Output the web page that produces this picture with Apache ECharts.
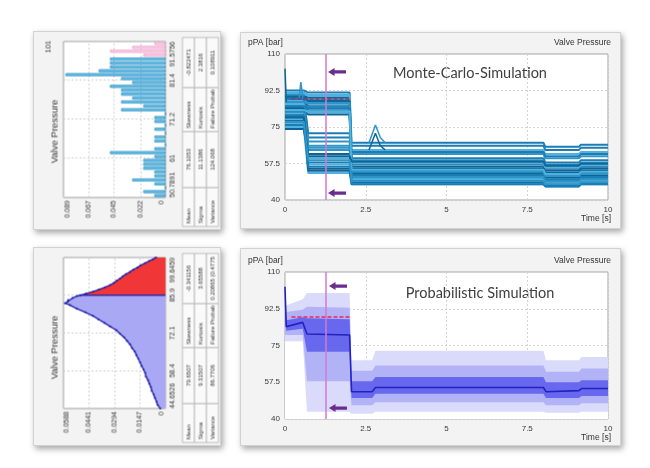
<!DOCTYPE html>
<html>
<head>
<meta charset="utf-8">
<title>Valve Pressure</title>
<script src="https://cdn.jsdelivr.net/npm/echarts@6.0.0/dist/echarts.min.js"></script>
<style>
  html, body { margin: 0; padding: 0; background: #fff; }
  body { width: 650px; height: 468px; position: relative; overflow: hidden; }
  .panel { position: absolute; background: #f3f3f3; border: 1px solid #d2d2d2; box-shadow: 2px 3px 6px rgba(0, 0, 0, 0.35); }
  .chart { position: absolute; left: 0; top: 0; }
  /* the two distribution plots are drawn upright and turned a quarter left */
  .rot { position: absolute; transform: rotate(-90deg); }
</style>
</head>
<body>
<div class="panel" style="left:33px;top:31px;width:186px;height:197px;">
  <div id="histChart" class="rot" style="left:-5.5px;top:5.5px;width:197px;height:186px;"></div>
</div>
<div class="panel" style="left:240px;top:32px;width:379px;height:195px;">
  <div id="mcChart" class="chart" style="width:379px;height:195px;"></div>
</div>
<div class="panel" style="left:33px;top:247px;width:186px;height:197px;">
  <div id="pdfChart" class="rot" style="left:-5.5px;top:5.5px;width:197px;height:186px;"></div>
</div>
<div class="panel" style="left:240px;top:248px;width:379px;height:196px;">
  <div id="probChart" class="chart" style="width:379px;height:196px;"></div>
</div>

<script>
const FONT = "Liberation Sans";
const TITLE_FONT = "Lato";

// ---------- histogram (top left) ----------
const histMin = 50.7891;
const histMax = 91.5756;
const histTicks = [50.7891, 61, 71.2, 81.4, 91.5756];
const histDensityTicks = [0, 0.022, 0.045, 0.067, 0.089];
const histDensityMax = 0.0891;
// density per bin, low pressure -> high pressure
const histDensity = [
  0.0097, 0.0194, 0, 0.0097, 0.0291, 0.0097, 0.0097, 0.0194, 0.0194, 0.0194,
  0.0097, 0.0485, 0.0097, 0, 0.0097, 0.0097, 0, 0.0097, 0, 0.0097,
  0.0097, 0, 0.0388, 0.0194, 0.0388, 0.0291, 0.0388, 0.0388, 0.0485, 0.0291,
  0.0388, 0.0874, 0.0583, 0.0485, 0.0485, 0.0485, 0.0194, 0.0485, 0.0291, 0.0097,
];
const histFailFrom = 36; // bins from here on are above the limit
const histSamples = "101";
const histStats = [
  ["Mean", "76.1053", "Skewness", "-0.822471"],
  ["Sigma", "11.1386", "Kurtosis", "2.3816"],
  ["Variance", "124.068", "Failure Probabil", "0.108911"],
];

// ---------- density (bottom left) ----------
const pdfMin = 44.6526;
const pdfMax = 99.6459;
const pdfTicks = [44.6526, 58.4, 72.1, 85.9, 99.6459];
const pdfDensityTicks = [0, 0.0147, 0.0294, 0.0441, 0.0588];
const pdfLimit = 85.9;
const pdfP = [
  44.6526, 45.9, 47.2, 48.5, 49.8, 51.1, 52.4, 53.7, 55.0, 56.3,
  57.6, 58.9, 60.2, 61.5, 62.8, 64.1, 65.4, 66.7, 68.0, 69.3,
  70.6, 71.9, 73.2, 74.5, 75.8, 77.1, 78.4, 79.7, 81.0, 82.3,
  83.0, 83.6, 84.2, 84.9, 85.6, 85.9, 86.5, 87.2, 88.0, 88.8,
  89.6, 90.4, 91.2, 92.0, 92.8, 93.6, 94.4, 95.2, 96.0, 96.8,
  97.6, 98.4, 99.0, 99.6459,
];
const pdfD = [
  0.0030, 0.0045, 0.0052, 0.0061, 0.0068, 0.0079, 0.0084, 0.0093, 0.0101, 0.0113,
  0.0117, 0.0127, 0.0138, 0.0147, 0.0157, 0.0168, 0.0177, 0.0193, 0.0204, 0.0222,
  0.0239, 0.0263, 0.0284, 0.0319, 0.0351, 0.0386, 0.0419, 0.0463, 0.0512, 0.0551,
  0.0579, 0.0564, 0.0560, 0.0536, 0.0510, 0.0492, 0.0458, 0.0418, 0.0383, 0.0349,
  0.0320, 0.0298, 0.0281, 0.0262, 0.0246, 0.0228, 0.0205, 0.0186, 0.0162, 0.0143,
  0.0118, 0.0094, 0.0072, 0.0055,
];
const pdfStats = [
  ["Mean", "79.6507", "Skewness", "-0.341156"],
  ["Sigma", "9.31507", "Kurtosis", "3.65588"],
  ["Variance", "86.7706", "Failure Probabil", "0.20865 (0.4775"],
];

// ---------- shared for the two time plots ----------
const pressureTicks = [40, 57.5, 75, 92.5, 110];
const cursorTime = 1.27;
const limitPressure = 88.5;
const limitSpan = [0.2, 2.0];
const mcArrows = [[1.61, 101.4], [1.61, 43.3]];
const probArrows = [[1.64, 103.3], [1.64, 45.2]];

// ---------- Monte-Carlo runs (top right) ----------
const mcTimes = [0, 0.58, 0.72, 2.0, 2.06, 8.0, 8.06, 9.1, 9.16, 10];
const mcLevelIdx = [0, 0, 1, 1, 2, 2, 3, 3, 4, 4];
// levels of each run: before 0.6 s, 0.7-2 s, 2-8 s, 8-9.1 s, 9.1-10 s
const mcRuns = [
  [92.5, 91.5, 67.5, 65.5, 66.5],
  [91, 90, 64, 62, 63],
  [90, 89, 56, 54, 55],
  [89, 88, 52, 50, 51],
  [88, 87, 60, 58, 59],
  [87.5, 86, 49, 47.5, 48.5],
  [86.5, 85, 54, 52, 53],
  [85.5, 84.5, 50.5, 48.5, 49.5],
  [84.5, 83, 58, 56, 57],
  [83.5, 82, 48, 47, 48],
  [82.5, 81, 53, 51, 52],
  [81, 66, 62, 60, 61],
  [80, 70, 66, 64, 65],
  [79, 60, 51, 49, 50],
  [78, 55, 49.5, 47.5, 48.5],
  [77, 64, 55, 53, 54],
  [76, 58, 52, 50, 51],
  [75, 53, 47.5, 46.5, 47.5],
  [74, 62, 57, 55, 56],
  [90.5, 68, 59, 57, 58],
  [88.5, 72, 63, 61, 62],
  [86, 57, 50, 48, 49],
  [84, 54, 48.5, 47, 48],
  [82, 65, 53.5, 51.5, 52.5],
  [80.5, 56, 51.5, 49.5, 50.5],
  [91.5, 90.5, 57.5, 55.5, 56.5],
  [89.5, 87.5, 55, 53, 54],
  [87, 86.5, 51, 49, 50],
  [85, 84, 47.5, 46.5, 47.5],
  [83, 82.5, 54.5, 52.5, 53.5],
  [79.5, 61, 58.5, 56.5, 57.5],
  [77.5, 59, 49, 47.5, 48.5],
];
const mcSpikes = [
  [[0, 103], [0.02, 103], [0.04, 87]],
  [[0.44, 89], [0.49, 96.5], [0.55, 89]],
  [[2.6, 64], [2.8, 72], [2.95, 66], [3.1, 64]],
  [[2.6, 67.5], [2.8, 76], [2.95, 70], [3.1, 67.5]],
];
const mcColors = ["#1c7db5", "#4fb2de", "#0f6498", "#2f95c8"];

// ---------- probabilistic bands (bottom right) ----------
const bandTimes = [0, 0.04, 0.55, 0.68, 2.0, 2.06, 2.7, 2.8, 8.0, 8.08, 9.1, 9.18, 10];
const bandHi0 = [108, 94, 97, 100, 100, 68, 68, 72.5, 72.5, 68, 68, 69.5, 69.5];
const bandHi1 = [104, 91, 92, 93.5, 93, 63, 63, 65.5, 65.5, 62.5, 62.5, 64, 64];
const bandHi2 = [103, 87, 88.5, 88, 87.5, 58, 58, 60, 60, 57.5, 57.5, 58.5, 58.5];
const bandMed = [103, 84, 86, 80.5, 80, 53, 53, 55, 55, 53, 53.5, 54.5, 54.5];
const bandLo2 = [88, 82, 83, 72, 72, 50, 50, 52, 52, 50, 50, 51, 51];
const bandLo1 = [80, 79.5, 80, 58, 58, 46.5, 46.5, 48, 48, 46.5, 46.5, 47.5, 47.5];
const bandLo0 = [77, 76.5, 77, 43.5, 43.5, 42.5, 42.5, 43.5, 43.5, 43, 43, 43.5, 43.5];
const bandColors = ["#dadafb", "#b2b2f6", "#6868ef"];

const ARROW = "path://M0,5L8,0L8,3L22,3L22,7L8,7L8,10Z";

// stats table below the upright plot (becomes the right strip once rotated)
function statTable(rows) {
  const colB = [3, 42, 98, 142, 192];
  const rowB = [148, 160, 172, 184];
  const els = [];
  rows.forEach((row, r) => {
    row.forEach((txt, c) => {
      const w = colB[c + 1] - colB[c];
      els.push({
        type: "rect",
        shape: { x: colB[c], y: rowB[r], width: w, height: rowB[r + 1] - rowB[r] },
        style: { fill: "#fafafa", stroke: "#bdbdbd", lineWidth: 1 },
        silent: true,
      });
      els.push({
        type: "text",
        x: c % 2 === 0 ? colB[c] + 3 : colB[c] + w / 2,
        y: (rowB[r] + rowB[r + 1]) / 2,
        style: {
          text: txt,
          fontFamily: FONT,
          fontSize: 6,
          fill: "#333",
          align: c % 2 === 0 ? "left" : "center",
          verticalAlign: "middle",
          width: w - 3,
          overflow: "truncate",
          ellipsis: "",
        },
        silent: true,
      });
    });
  });
  return els;
}

function uprightFrame(gridLeft) {
  return {
    animation: false,
    textStyle: { fontFamily: FONT },
    grid: {
      left: gridLeft, right: 9, top: 29, bottom: 55,
      show: true, backgroundColor: "#fff", borderColor: "#9c9c9c", borderWidth: 1,
    },
  };
}

function densityAxis(ticks, max) {
  return {
    type: "value",
    min: 0,
    max: max,
    axisLine: { show: false },
    axisTick: { show: false, customValues: ticks },
    axisLabel: {
      customValues: ticks, fontSize: 7, color: "#333", margin: 3,
      verticalAlignMinLabel: "bottom", verticalAlignMaxLabel: "top",
      formatter: (v) => String(v),
    },
    splitLine: { lineStyle: { color: "#d0d0d0", type: [2, 2] } },
  };
}

function pressureAxis(min, max, ticks) {
  return {
    type: "value",
    min: min,
    max: max,
    position: "bottom",
    axisLine: { show: false },
    axisTick: { show: false, customValues: ticks },
    axisLabel: {
      customValues: ticks, fontSize: 7, color: "#333", margin: 4,
      alignMinLabel: "left", alignMaxLabel: "right",
      formatter: (v) => String(v),
    },
    splitLine: { show: true, lineStyle: { color: "#d0d0d0", type: [2, 2] } },
  };
}

// ---- top left ----
const histBins = histDensity.map((d, i) =>
  (histMin + (i * (histMax - histMin)) / histDensity.length).toFixed(2)
);
const histChart = echarts.init(document.getElementById("histChart"));
histChart.setOption(Object.assign(uprightFrame(32), {
  xAxis: [
    { type: "category", data: histBins, show: false, position: "bottom" },
    pressureAxis(histMin, histMax, histTicks),
  ],
  yAxis: densityAxis(histDensityTicks, histDensityMax),
  graphic: [
    {
      type: "text", x: 98, y: 20,
      style: { text: "Valve Pressure", fontFamily: FONT, fontSize: 9.5, fill: "#333", align: "center", verticalAlign: "middle" },
    },
    {
      type: "text", x: 189, y: 14,
      style: { text: histSamples, fontFamily: FONT, fontSize: 7.5, fill: "#333", align: "right", verticalAlign: "middle" },
    },
  ].concat(statTable(histStats)),
  series: [
    {
      type: "bar",
      xAxisIndex: 0,
      barCategoryGap: "22%",
      silent: true,
      data: histDensity.map((d, i) => ({
        value: d,
        itemStyle: i >= histFailFrom
          ? { color: "#fde6f2", borderColor: "#ee9cc8", borderWidth: 1 }
          : { color: "#6ac6eb", borderColor: "#2a8cc0", borderWidth: 0.8 },
      })),
    },
  ],
}));

// ---- bottom left ----
const pdfPoints = pdfP.map((p, i) => [p, pdfD[i]]);
const pdfLow = pdfPoints.filter((d) => d[0] <= pdfLimit);
const pdfHigh = pdfPoints.filter((d) => d[0] >= pdfLimit);
const pdfEdge = pdfPoints.find((d) => d[0] === pdfLimit);
const pdfLine = { color: "#1c1ca8", width: 1.3 };
const pdfChart = echarts.init(document.getElementById("pdfChart"));
pdfChart.setOption(Object.assign(uprightFrame(37), {
  xAxis: pressureAxis(pdfMin, pdfMax, pdfTicks),
  yAxis: densityAxis(pdfDensityTicks, 0.0588),
  graphic: [
    {
      type: "text", x: 98, y: 20,
      style: { text: "Valve Pressure", fontFamily: FONT, fontSize: 9.5, fill: "#333", align: "center", verticalAlign: "middle" },
    },
  ].concat(statTable(pdfStats)),
  series: [
    {
      type: "line", data: pdfLow, silent: true,
      symbol: "circle", symbolSize: 2, showSymbol: true,
      itemStyle: { color: "#1c1ca8" }, lineStyle: pdfLine,
      areaStyle: { color: "#a8a8f4", opacity: 1 },
    },
    {
      type: "line", data: pdfHigh, silent: true,
      symbol: "circle", symbolSize: 2, showSymbol: true,
      itemStyle: { color: "#1c1ca8" }, lineStyle: pdfLine,
      areaStyle: { color: "#f03636", opacity: 1 },
    },
    {
      type: "line", data: [[pdfLimit, 0], pdfEdge], silent: true,
      showSymbol: false, lineStyle: pdfLine,
    },
  ],
}));

// ---- time plots ----
function timeFrame(gridTop, gridBottom, titleText, titleX, titleY, labelTop, timeTop) {
  const label = { fontFamily: FONT, fontSize: 8.5, fill: "#333" };
  return {
    animation: false,
    textStyle: { fontFamily: FONT },
    grid: {
      left: 44, right: 12, top: gridTop, bottom: gridBottom,
      show: true, backgroundColor: "#fff", borderColor: "#a3a3a3", borderWidth: 1,
    },
    xAxis: {
      type: "value", min: 0, max: 10, interval: 2.5,
      axisLine: { show: false }, axisTick: { show: false },
      axisLabel: { fontSize: 8, color: "#3a3a3a", margin: 6, formatter: (v) => String(v) },
      splitLine: { lineStyle: { color: "#d4d4d4", type: [2, 2] } },
    },
    yAxis: {
      type: "value", min: 40, max: 110,
      axisLine: { show: false },
      axisTick: { show: false, customValues: pressureTicks },
      axisLabel: { customValues: pressureTicks, fontSize: 8, color: "#3a3a3a", margin: 5 },
      splitLine: { lineStyle: { color: "#d4d4d4", type: [2, 2] } },
    },
    graphic: [
      { type: "text", left: 7, top: labelTop, style: Object.assign({ text: "pPA [bar]" }, label) },
      { type: "text", right: 9, top: labelTop, style: Object.assign({ text: "Valve Pressure" }, label) },
      { type: "text", right: 9, top: timeTop, style: Object.assign({ text: "Time [s]" }, label) },
      {
        type: "text", x: titleX, y: titleY,
        style: { text: titleText, fontFamily: TITLE_FONT, fontSize: 14.5, fill: "#404040", align: "center", verticalAlign: "middle" },
      },
    ],
  };
}

function annotations(limitColor, limitWidth, arrows) {
  return {
    markLine: {
      silent: true, symbol: "none", animation: false,
      label: { show: false },
      data: [
        { xAxis: cursorTime, lineStyle: { color: "#d27ad2", width: 1.5, type: "solid" } },
        [
          { coord: [limitSpan[0], limitPressure], lineStyle: { color: limitColor, width: limitWidth, type: [4, 2] } },
          { coord: [limitSpan[1], limitPressure] },
        ],
      ],
    },
    markPoint: {
      silent: true, animation: false,
      symbol: ARROW, symbolSize: [18, 8],
      itemStyle: { color: "#6a2d8e" },
      label: { show: false },
      data: arrows.map((c) => ({ coord: c })),
    },
  };
}

// ---- top right ----
const mcSeries = mcRuns.map((run, i) => ({
  type: "line", silent: true, showSymbol: false,
  data: mcTimes.map((t, j) => [t, run[mcLevelIdx[j]]]),
  lineStyle: { color: mcColors[i % mcColors.length], width: 2 },
}));
mcSpikes.forEach((pts, i) => {
  mcSeries.push({
    type: "line", silent: true, showSymbol: false, data: pts,
    lineStyle: { color: mcColors[i % 2 === 0 ? 2 : 3], width: 1.5 },
  });
});
Object.assign(mcSeries[mcSeries.length - 1], annotations("#8a3a6e", 1.5, mcArrows));

const mcChart = echarts.init(document.getElementById("mcChart"));
mcChart.setOption(Object.assign(
  timeFrame(21, 28, "Monte-Carlo-Simulation", 229, 40, 5, 181),
  { series: mcSeries }
));

// ---- bottom right ----
// nested quantile bands painted from the outside in, each filled down to the axis
const bandLayers = [
  [bandHi0, bandColors[0]],
  [bandHi1, bandColors[1]],
  [bandHi2, bandColors[2]],
  [bandLo2, bandColors[1]],
  [bandLo1, bandColors[0]],
  [bandLo0, "#ffffff"],
];
const probSeries = bandLayers.map(([edge, color]) => ({
  type: "line", silent: true, showSymbol: false,
  data: bandTimes.map((t, i) => [t, edge[i]]),
  lineStyle: { width: 0, opacity: 0 },
  areaStyle: { color: color, opacity: 1, origin: "start" },
}));
probSeries.push(Object.assign({
  type: "line", silent: true, showSymbol: false,
  data: bandTimes.map((t, i) => [t, bandMed[i]]),
  lineStyle: { color: "#2222c2", width: 1.6 },
}, annotations("#e24680", 2, probArrows)));

const probChart = echarts.init(document.getElementById("probChart"));
probChart.setOption(Object.assign(
  timeFrame(23, 26, "Probabilistic Simulation", 239, 44, 7, 184),
  { series: probSeries }
));
</script>
</body>
</html>
